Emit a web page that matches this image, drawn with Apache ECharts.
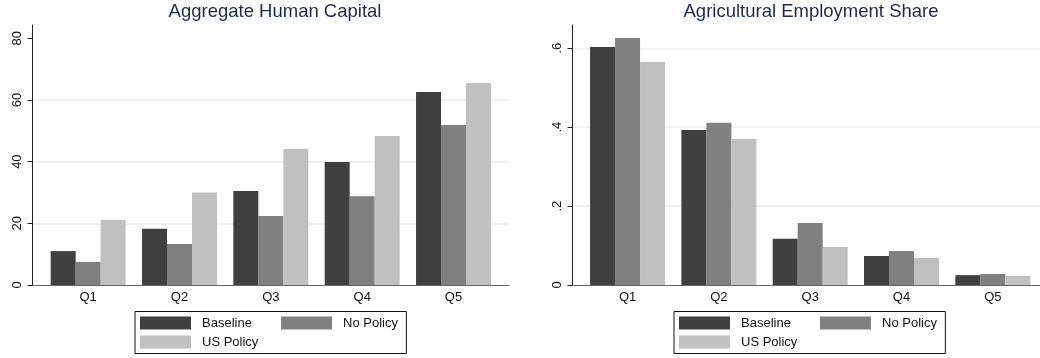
<!DOCTYPE html>
<html>
<head>
<meta charset="utf-8">
<script src="https://cdn.jsdelivr.net/npm/echarts@6/dist/echarts.min.js"></script>
<style>
  html, body { margin: 0; padding: 0; background: #fff; }
  #chart { width: 1040px; height: 358px; }
</style>
</head>
<body>
<div id="chart"></div>
<script>
// Quintile categories shared by both panels
const categories = ['Q1', 'Q2', 'Q3', 'Q4', 'Q5'];
const seriesNames = ['Baseline', 'No Policy', 'US Policy'];
const seriesColors = ['#404040', '#808080', '#c0c0c0'];

// Panel 1: aggregate human capital by quintile
const capitalBaseline = [11.0, 18.2, 30.5, 39.9, 62.6];
const capitalNoPolicy = [7.5, 13.3, 22.4, 28.8, 51.9];
const capitalUSPolicy = [21.1, 30.0, 44.1, 48.3, 65.5];
const capitalTicks = [0, 20, 40, 60, 80];
const capitalGridLines = [20, 40, 60];
const capitalMax = 84.3;

// Panel 2: agricultural employment share by quintile
const agriBaseline = [0.603, 0.393, 0.117, 0.0735, 0.025];
const agriNoPolicy = [0.626, 0.411, 0.157, 0.086, 0.028];
const agriUSPolicy = [0.565, 0.370, 0.096, 0.069, 0.023];
const agriTicks = [0, 0.2, 0.4, 0.6];
const agriGridLines = [0.2, 0.4, 0.6];
const agriMax = 0.659;

const FONT = '"Liberation Sans", Arial, Helvetica, sans-serif';

function shareLabel(v) {
  return v === 0 ? '0' : String(+v.toFixed(2)).replace(/^0/, '');
}

// Frame axes: y axis with ticks and labels, and the baseline x axis
function frameY(gridIndex, max, ticks, fmt) {
  return {
    type: 'value', gridIndex, min: 0, max, position: 'left', offset: 0,
    axisLine: { show: true, onZero: false, lineStyle: { color: '#222', width: 1 } },
    axisTick: { show: true, length: 5, customValues: ticks, lineStyle: { color: '#222' } },
    axisLabel: {
      customValues: ticks, rotate: 90, margin: 9, color: '#111',
      fontSize: 13, fontFamily: FONT, formatter: fmt
    },
    splitLine: { show: false }
  };
}
// Hidden y axis that only draws the horizontal grid lines
function gridLinesY(gridIndex, max, values) {
  return {
    type: 'value', gridIndex, min: 0, max, position: 'left', offset: 0,
    axisLine: { show: false },
    axisTick: { show: false, customValues: values },
    axisLabel: { show: false, customValues: values },
    splitLine: { show: true, lineStyle: { color: '#edf3f3', width: 2 } }
  };
}
function frameX(gridIndex) {
  return {
    type: 'value', gridIndex, min: 0, max: 1,
    axisLine: { show: true, lineStyle: { color: '#666', width: 1 } },
    axisTick: { show: false }, axisLabel: { show: false }, splitLine: { show: false }
  };
}
// Inner axes carrying the bars
function innerX(gridIndex) {
  return {
    type: 'category', gridIndex, data: categories,
    axisLine: { show: false }, axisTick: { show: false },
    axisLabel: { margin: 6, color: '#111', fontSize: 13, fontFamily: FONT },
    splitLine: { show: false }
  };
}
function innerY(gridIndex, max) {
  return { type: 'value', gridIndex, min: 0, max, show: false, splitLine: { show: false } };
}

function bars(values, i, xIdx, yIdx) {
  return {
    type: 'bar', name: seriesNames[i], data: values,
    xAxisIndex: xIdx, yAxisIndex: yIdx,
    barWidth: 25, barGap: '0%',
    itemStyle: { color: seriesColors[i] },
    emphasis: { disabled: true }
  };
}

// Legend: framed first column (Baseline, US Policy) plus a second column (No Policy)
const legendText = { color: '#111', fontSize: 13, fontFamily: FONT, padding: [0, 0, 0, 6] };
function legendColumns(left) {
  const base = {
    orient: 'vertical', icon: 'rect',
    itemWidth: 51, itemHeight: 13, itemGap: 6,
    textStyle: legendText, selectedMode: false
  };
  return [
    Object.assign({}, base, {
      left, top: 311.5,
      backgroundColor: '#fff', borderColor: '#111', borderWidth: 1,
      padding: [5, 148, 5, 5],
      data: [0, 2].map(i => ({ name: seriesNames[i], itemStyle: { color: seriesColors[i] } }))
    }),
    Object.assign({}, base, {
      left: left + 141, top: 311.5, z: 10,
      padding: [5, 0, 0, 5],
      data: [{ name: seriesNames[1], itemStyle: { color: seriesColors[1] } }]
    })
  ];
}

const chart = echarts.init(document.getElementById('chart'), null, { renderer: 'canvas' });
chart.setOption({
  animation: false,
  backgroundColor: '#fff',
  title: [
    { text: 'Aggregate Human Capital', left: 270, top: -3, textAlign: 'center',
      textStyle: { color: '#1e2a4a', fontSize: 18.5, fontWeight: 'normal', fontFamily: FONT } },
    { text: 'Agricultural Employment Share', left: 806, top: -3, textAlign: 'center',
      textStyle: { color: '#1e2a4a', fontSize: 18.5, fontWeight: 'normal', fontFamily: FONT } }
  ],
  legend: legendColumns(135).concat(legendColumns(674)),
  grid: [
    { left: 32.5, right: 531, top: 25, bottom: 73 },
    { left: 42.5, right: 540.8, top: 25, bottom: 73 },
    { left: 572.5, right: 0, top: 25, bottom: 73 },
    { left: 581.9, right: 1.5, top: 25, bottom: 73 }
  ],
  xAxis: [frameX(0), innerX(1), frameX(2), innerX(3)],
  yAxis: [
    gridLinesY(0, capitalMax, capitalGridLines),
    frameY(0, capitalMax, capitalTicks, v => String(v)),
    innerY(1, capitalMax),
    gridLinesY(2, agriMax, agriGridLines),
    frameY(2, agriMax, agriTicks, shareLabel),
    innerY(3, agriMax)
  ],
  series: [
    bars(capitalBaseline, 0, 1, 2),
    bars(capitalNoPolicy, 1, 1, 2),
    bars(capitalUSPolicy, 2, 1, 2),
    bars(agriBaseline, 0, 3, 5),
    bars(agriNoPolicy, 1, 3, 5),
    bars(agriUSPolicy, 2, 3, 5)
  ]
});
</script>
</body>
</html>
